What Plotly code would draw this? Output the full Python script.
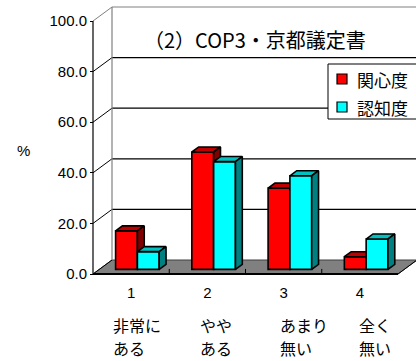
import plotly.graph_objects as go

# ---- data -------------------------------------------------------------
categories = [1, 2, 3, 4]
tick_labels = ["1", "2", "3", "4"]
label_line1 = ["非常に", "やや", "あまり", "全く"]
label_line2 = ["ある", "ある", "無い", "無い"]
series_names = ["関心度", "認知度"]
interest = [15.2, 46.4, 32.1, 5.0]
awareness = [7.0, 42.6, 37.0, 12.0]
y_ticks = [0, 20, 40, 60, 80, 100]

# ---- geometry of the pseudo-3D frame ---------------------------------
W, H = 416, 361
ML, MR, MT, MB = 84, 0, 2, 80          # plot area box
ORX, ORY = 93, 274                      # front origin of the axes (px)
PX_CAT = 76.25                          # px per category
PX_UNIT = 2.53                          # px per value unit
plot_w = W - ML - MR
plot_h = H - MT - MB
X0 = 0.5
x_rng = [X0 - (ORX - ML) / PX_CAT, X0 + (W - MR - ORX) / PX_CAT]
y_rng = [-(H - MB - ORY) / PX_UNIT, (ORY - MT) / PX_UNIT]
X_END = 4.5

DX = 19 / PX_CAT        # depth offset of the back wall (x units)
DY = 14 / PX_UNIT       # depth offset of the back wall (y units)
F0 = 0.33               # depth fraction of column fronts
FD = 0.36               # depth fraction of column thickness
BW = 0.286              # column width
SHIFT = F0 * DX
BASE = F0 * DY


def pxx(px):
    return (px - ML) / plot_w


def pxy(py):
    return (H - MB - py) / plot_h


def faces(vals, offset):
    tx, ty, sx, sy = [], [], [], []
    ddx, ddy = FD * DX, FD * DY
    for c, v in zip(categories, vals):
        xl = c + offset
        xr = xl + BW
        t = BASE + v
        tx += [xl, xr, xr + ddx, xl + ddx, xl, None]
        ty += [t, t, t + ddy, t + ddy, t, None]
        sx += [xr, xr, xr + ddx, xr + ddx, xr, None]
        sy += [BASE, t, t + ddy, BASE + ddy, BASE, None]
    return tx, ty, sx, sy


series = [
    (series_names[0], interest, "#FF0000", "#C00000", "#800000", "x", "y", SHIFT - BW),
    (series_names[1], awareness, "#00FFFF", "#00C0C0", "#008080", "x2", "y2", SHIFT),
]

fig = go.Figure()
OUTLINE = dict(color="black", width=1.6)
for name, vals, front, top, side, xa, ya, off in series:
    fig.add_trace(go.Bar(
        x=categories, y=vals, base=BASE, width=BW, offset=off, name=name,
        marker=dict(color=front, line=OUTLINE),
        xaxis=xa, yaxis=ya, showlegend=False, hoverinfo="skip",
    ))
    tx, ty, sx, sy = faces(vals, off)
    for fx, fy, col in ((tx, ty, top), (sx, sy, side)):
        fig.add_trace(go.Scatter(
            x=fx, y=fy, mode="lines", fill="toself", fillcolor=col,
            line=OUTLINE, xaxis=xa, yaxis=ya, showlegend=False, hoverinfo="skip",
        ))

# ---- frame: floor, walls, gridlines ----------------------------------
shapes = []
shapes.append(dict(type="path", xref="x", yref="y", layer="below",
                   path=f"M{X0},0 L{X_END},0 L{X_END+DX},{DY} L{X0+DX},{DY} Z",
                   fillcolor="#808080", line=dict(color="#404040", width=1)))
for v in y_ticks:
    col = "#808080" if v == 100 else "black"
    shapes.append(dict(type="line", xref="x", yref="y", layer="below",
                       x0=X0, y0=v, x1=X0 + DX, y1=v + DY,
                       line=dict(color=col, width=1)))
    if 0 < v:
        shapes.append(dict(type="line", xref="x", yref="y", layer="below",
                           x0=X0 + DX, y0=v + DY, x1=x_rng[1] + 0.1, y1=v + DY,
                           line=dict(color=col, width=1.2)))
shapes.append(dict(type="line", xref="x", yref="y", layer="below",
                   x0=X0 + DX, y0=DY, x1=X0 + DX, y1=100 + DY,
                   line=dict(color="#808080", width=1.2)))
shapes.append(dict(type="line", xref="x", yref="y", layer="below",
                   x0=X0, y0=0, x1=X0, y1=100, line=dict(color="black", width=1.2)))
shapes.append(dict(type="line", xref="x", yref="y", layer="below",
                   x0=X0, y0=0, x1=X_END, y1=0, line=dict(color="black", width=2)))
shapes.append(dict(type="line", xref="x", yref="y", layer="below",
                   x0=X_END, y0=0, x1=X_END + DX, y1=DY, line=dict(color="black", width=1)))
for c in categories[:-1]:
    shapes.append(dict(type="line", xref="x", yref="y", layer="below",
                       x0=c + 0.5, y0=0, x1=c + 0.5, y1=2,
                       line=dict(color="black", width=1)))

# ---- legend box ------------------------------------------------------
shapes.append(dict(type="rect", xref="paper", yref="paper",
                   x0=pxx(328), x1=pxx(422), y0=pxy(119), y1=pxy(64),
                   fillcolor="white", line=dict(color="black", width=1)))
for (name, vals, front, *_), cy in zip(series, (79, 107)):
    shapes.append(dict(type="rect", xref="paper", yref="paper",
                       x0=pxx(337), x1=pxx(347), y0=pxy(cy + 5), y1=pxy(cy - 5),
                       fillcolor=front, line=dict(color="black", width=1.2)))

JP = "Noto Sans CJK JP"
annotations = [
    dict(text="（2）COP3・京都議定書", x=pxx(142), y=pxy(39), xanchor="left",
         yanchor="middle", font=dict(family=JP, size=20, color="black")),
    dict(text="%", x=pxx(23), y=pxy(150), xanchor="center", yanchor="middle",
         font=dict(family="Liberation Sans", size=15, color="black")),
]
for name, cy in zip(series_names, (79, 107)):
    annotations.append(dict(text=name, x=pxx(355), y=pxy(cy), xanchor="left",
                            yanchor="middle", font=dict(family=JP, size=17, color="black")))
label_left_px = [111, 198, 278, 357]
for lx, l1, l2 in zip(label_left_px, label_line1, label_line2):
    for txt, cy in ((l1, 325), (l2, 348)):
        annotations.append(dict(text=txt, x=pxx(lx), y=pxy(cy), xanchor="left",
                                yanchor="middle", font=dict(family=JP, size=16, color="black")))
for a in annotations:
    a.update(xref="paper", yref="paper", showarrow=False)

fig.update_layout(
    width=W, height=H, autosize=False,
    margin=dict(l=ML, r=MR, t=MT, b=MB, autoexpand=False),
    paper_bgcolor="white", plot_bgcolor="white",
    barmode="overlay", shapes=shapes, annotations=annotations,
    xaxis=dict(range=x_rng, tickvals=categories, ticktext=tick_labels,
               showgrid=False, zeroline=False, showline=False, ticks="",
               anchor="free", position=pxy(ORY), ticklabelstandoff=8,
               tickfont=dict(family="Liberation Sans", size=15, color="black")),
    yaxis=dict(range=y_rng, tickvals=y_ticks, ticktext=[f"{v:.1f}" for v in y_ticks],
               showgrid=False, zeroline=False, showline=False,
               ticks="outside", ticklen=3, tickcolor="black",
               anchor="free", position=pxx(ORX),
               tickfont=dict(family="Liberation Sans", size=15, color="black")),
    xaxis2=dict(range=x_rng, overlaying="x", visible=False),
    yaxis2=dict(range=y_rng, overlaying="y", visible=False),
)

fig.write_html("out.html")
